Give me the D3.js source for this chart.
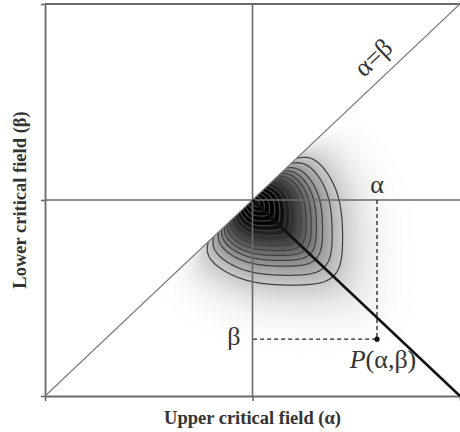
<!DOCTYPE html>
<html>
<head>
<meta charset="utf-8">
<script src="https://cdn.jsdelivr.net/npm/d3@7"></script>
<style>
  body { margin: 0; background: #fff; }
  svg { display: block; }
</style>
</head>
<body>
<svg id="chart" width="460" height="432"></svg>
<script>
// Preisach plane: upper switching field α (x) against lower switching field β (y).
const axisTicks = [-1, 0, 1];
const pointP = [0.6, -0.71];            // P(α, β)
const peakAB = [0.015, -0.015];         // maximum of the Preisach density (α, β)
const reachEdge = [0.42];               // reach of the unit level curve toward +α and −β
const reachAlong = [0.375, 0.2, 0.04];  // reach along α=β, its dip at the diagonal, dip width
const cornerExp = [6];                  // rounding of the level-curve corners
const falloff = [0.62];                 // Gaussian width of the density in level-curve units
const haloReach = [0.1, 1.35];          // faint glow around the distribution: strength, reach
const contourLevels = [0.074, 0.133, 0.214, 0.280, 0.345, 0.417, 0.495, 0.577,
                       0.660, 0.740, 0.816, 0.882, 0.936, 0.974, 0.994];
const labelX = "Upper critical field (α)";
const labelY = "Lower critical field (β)";

const x = d3.scaleLinear([-1, 1], [45, 460]);
const y = d3.scaleLinear([-1, 1], [396, 4]);
const svg = d3.select("#chart");
const serif = "'Liberation Serif', 'Times New Roman', serif";

// normalised distance from the density maximum: rounded polygon bounded by
// α = const, β = const and lines normal to α=β
function levelRadius(a, b) {
  const p = cornerExp[0];
  const dist = Math.max(0, (a - b) / Math.SQRT2);              // distance from α=β
  const along = reachAlong[0] * (1 - reachAlong[1] * Math.exp(-dist / reachAlong[2]));
  const u = Math.max(0, (a - peakAB[0]) / reachEdge[0]);
  const v = Math.max(0, (peakAB[1] - b) / reachEdge[0]);
  const w = Math.abs((a + b) - (peakAB[0] + peakAB[1])) / Math.SQRT2 / along;
  return Math.pow(Math.pow(u, p) + Math.pow(v, p) + Math.pow(w, p), 1 / p);
}
const density = r => Math.exp(-Math.pow(r / falloff[0], 2));
const darkness = r => Math.min(1,
  Math.pow(density(r), 0.75) + haloReach[0] * Math.exp(-Math.pow(r / haloReach[1], 4)));

// sample on a pixel grid covering the plot
const step = 1.5;
const gx0 = x(-1), gy0 = y(1);
const nx = Math.ceil((x(1) - gx0) / step), ny = Math.ceil((y(-1) - gy0) / step);
const densGrid = new Float64Array(nx * ny);
const shadeGrid = new Float64Array(nx * ny);
for (let j = 0; j < ny; j++) {
  for (let i = 0; i < nx; i++) {
    const r = levelRadius(x.invert(gx0 + (i + 0.5) * step), y.invert(gy0 + (j + 0.5) * step));
    densGrid[j * nx + i] = density(r);
    shadeGrid[j * nx + i] = darkness(r);
  }
}
const gridPath = d3.geoPath(d3.geoTransform({
  point(px, py) { this.stream.point(gx0 + px * step, gy0 + py * step); }
}));

const defs = svg.append("defs");
defs.append("clipPath").attr("id", "below-diagonal")
  .append("path")
  .attr("d", `M${x(-1)},${y(-1)}L${x(1)},${y(1)}L${x(1) + 5},${y(1)}L${x(1) + 5},${y(-1)}Z`);
defs.append("filter").attr("id", "soft")
  .attr("x", "-10%").attr("y", "-10%").attr("width", "120%").attr("height", "120%")
  .append("feGaussianBlur").attr("stdDeviation", 1.5);

const field = svg.append("g").attr("clip-path", "url(#below-diagonal)");

// continuous grey shading
const shadeLevels = d3.range(0.004, 1, 0.008);
const grey = t => { const g = Math.round(255 * (1 - t)); return `rgb(${g},${g},${g})`; };
field.append("g").attr("filter", "url(#soft)")
  .selectAll("path")
  .data(d3.contours().size([nx, ny]).thresholds(shadeLevels)(shadeGrid))
  .join("path")
  .attr("d", gridPath)
  .attr("fill", d => grey(d.value))
  .attr("stroke", "none");

// level curves of the density
field.append("g")
  .selectAll("path")
  .data(d3.contours().size([nx, ny]).thresholds(contourLevels)(densGrid))
  .join("path")
  .attr("d", gridPath)
  .attr("fill", "none")
  .attr("stroke", "#404040")
  .attr("stroke-width", 1.25);

const axisGrey = "#6a6a6a";

// frame and axes
svg.append("line")
  .attr("x1", x(-1)).attr("x2", x(1)).attr("y1", y(1)).attr("y2", y(1))
  .attr("stroke", axisGrey).attr("stroke-width", 1.8);

const yAxis = svg.append("g").attr("transform", `translate(${x(-1)},0)`)
  .call(d3.axisLeft(y).tickValues(axisTicks).tickSize(4).tickSizeOuter(0).tickFormat(""));
const xAxis = svg.append("g").attr("transform", `translate(0,${y(-1)})`)
  .call(d3.axisBottom(x).tickValues(axisTicks).tickSize(5).tickSizeOuter(0).tickFormat(""));
[yAxis, xAxis].forEach(g => {
  g.select(".domain").attr("stroke", axisGrey).attr("stroke-width", 1.8);
  g.selectAll(".tick line").attr("stroke", axisGrey).attr("stroke-width", 1.6);
});

// α = 0 and β = 0 lines
svg.append("line")
  .attr("x1", x(0)).attr("x2", x(0)).attr("y1", y(1)).attr("y2", y(-1))
  .attr("stroke", axisGrey).attr("stroke-width", 1.6);
svg.append("line")
  .attr("x1", x(-1)).attr("x2", x(1)).attr("y1", y(0)).attr("y2", y(0))
  .attr("stroke", axisGrey).attr("stroke-width", 1.6);

// α = β
svg.append("line")
  .attr("x1", x(-1)).attr("y1", y(-1)).attr("x2", x(1)).attr("y2", y(1))
  .attr("stroke", "#7a7a7a").attr("stroke-width", 1.2);

// α = −β from the origin
svg.append("line")
  .attr("x1", x(0)).attr("y1", y(0)).attr("x2", x(1)).attr("y2", y(-1))
  .attr("stroke", "#111").attr("stroke-width", 2.6);

// projections of P onto the axes
svg.append("path")
  .attr("d", d3.line()([[x(pointP[0]), y(0)], [x(pointP[0]), y(pointP[1])], [x(0), y(pointP[1])]]))
  .attr("fill", "none").attr("stroke", "#222").attr("stroke-width", 1.3)
  .attr("stroke-dasharray", "4,3");
svg.append("circle")
  .attr("cx", x(pointP[0])).attr("cy", y(pointP[1])).attr("r", 2.6).attr("fill", "#111");

// labels
svg.append("text")
  .attr("x", x(pointP[0])).attr("y", y(0) - 7)
  .attr("text-anchor", "middle").attr("font-family", serif).attr("font-size", 26)
  .attr("fill", "#333").text("α");
svg.append("text")
  .attr("x", x(0) - 12).attr("y", y(pointP[1]) + 6)
  .attr("text-anchor", "end").attr("font-family", serif).attr("font-size", 26)
  .attr("fill", "#333").text("β");
const pLabel = svg.append("text")
  .attr("x", x(pointP[0]) + 6).attr("y", y(pointP[1]) + 29)
  .attr("text-anchor", "middle").attr("font-family", serif).attr("font-size", 26)
  .attr("fill", "#333");
pLabel.append("tspan").attr("font-style", "italic").text("P");
pLabel.append("tspan").text("(α,β)");

const diagAngle = Math.atan2(y(1) - y(-1), x(1) - x(-1)) * 180 / Math.PI;
svg.append("text")
  .attr("transform", `translate(${x(0.65)},${y(0.65)}) rotate(${diagAngle})`)
  .attr("y", -12)
  .attr("text-anchor", "middle").attr("font-family", serif).attr("font-size", 26)
  .attr("fill", "#333").text("α=β");

svg.append("text")
  .attr("x", x(0)).attr("y", 424)
  .attr("text-anchor", "middle").attr("font-family", serif).attr("font-size", 18.5)
  .attr("font-weight", "bold").attr("fill", "#333").text(labelX);
svg.append("text")
  .attr("transform", `translate(26,${y(0)}) rotate(-90)`)
  .attr("text-anchor", "middle").attr("font-family", serif).attr("font-size", 18.5)
  .attr("font-weight", "bold").attr("fill", "#333").text(labelY);
</script>
</body>
</html>
